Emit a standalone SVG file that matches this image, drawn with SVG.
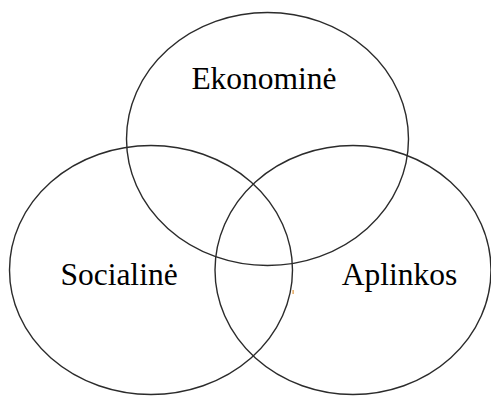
<svg xmlns="http://www.w3.org/2000/svg" width="491" height="396" viewBox="0 0 491 396">
  <style>
    .ring { fill: none; stroke: #2b2b2b; stroke-width: 1.4; }
    .label { font-family: "Liberation Serif", "Times New Roman", serif; font-size: 31.5px; fill: #000; text-anchor: middle; }
  </style>
  <rect width="491" height="396" fill="#fff"/>
  <g id="ekonomine">
    <ellipse class="ring" cx="267.5" cy="139" rx="141" ry="126.5"/>
    <text class="label" x="264" y="89">Ekonominė</text>
  </g>
  <g id="socialine">
    <ellipse class="ring" cx="151" cy="270" rx="141.5" ry="124.5"/>
    <text class="label" x="119" y="285">Socialinė</text>
  </g>
  <g id="aplinkos">
    <ellipse class="ring" cx="353" cy="270" rx="138" ry="124.5"/>
    <text class="label" x="399.5" y="285">Aplinkos</text>
  </g>
  <rect x="292.5" y="290" width="1.2" height="4" fill="#e0943a"/>
</svg>
